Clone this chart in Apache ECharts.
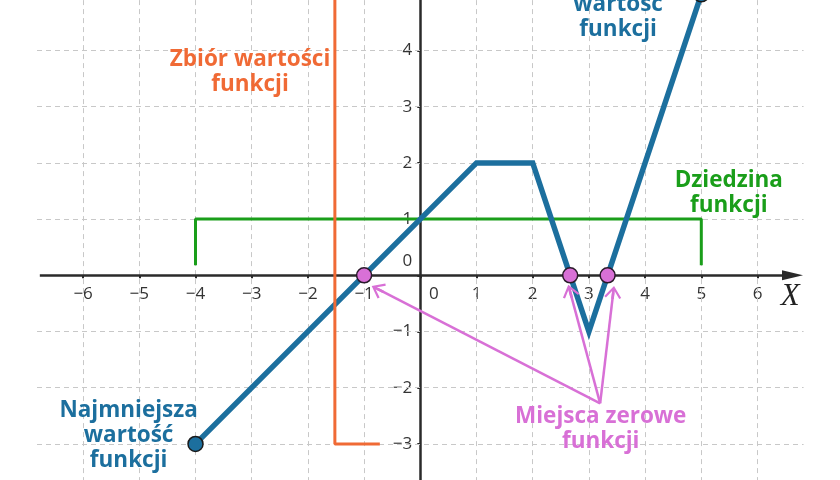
<!DOCTYPE html>
<html><head><meta charset="utf-8">
<script src="https://cdn.jsdelivr.net/npm/echarts@6/dist/echarts.min.js"></script>
<style>html,body{margin:0;padding:0;background:#fff}#c{width:840px;height:480px}</style>
</head><body><div id="c"></div>
<script>
// ---- data ----
const fnX = [-4, 1, 2, 3, 5];
const fnY = [-3, 2, 2, -1, 5];
const extremaX = [-4, 5];
const extremaY = [-3, 5];
const zeroX = [-1, 2.667, 3.333];
const rangeLineX = [-1.52, -1.52, -0.72];
const rangeLineY = [5.6, -3, -3];
const domainLineX = [-4, -4, 5, 5];
const domainLineY = [0.18, 1, 1, 0.18];
const xTicks = [-6, -5, -4, -3, -2, -1, 0, 1, 2, 3, 4, 5, 6];
const yTicks = [-3, -2, -1, 0, 1, 2, 3, 4, 5];
const arrowFrom = [3.2, -2.28];
const arrowTipX = [-0.865, 2.633, 3.447];
const arrowTipY = [-0.19, -0.17, -0.19];
const notes = ['Zbiór wartości\nfunkcji', 'Największa\nwartość\nfunkcji', 'Dziedzina\nfunkcji', 'Najmniejsza\nwartość\nfunkcji', 'Miejsca zerowe\nfunkcji', 'X'];

// ---- helpers ----
const U = 56.2; // px per unit in this layout (for arrow head offsets)
function pts(xs, ys) { return xs.map((x, i) => [x, ys[i]]); }
function shorten(from, to, px) {
  const dx = to[0] - from[0], dy = to[1] - from[1], L = Math.hypot(dx, dy), d = px / U;
  return [to[0] - dx / L * d, to[1] - dy / L * d];
}
const minus = v => v < 0 ? '\u2212' + (-v) : String(v);
const BLUE = '#1c6f9e', ORANGE = '#f06a35', GREEN = '#1a9e1a', PINK = '#d870d6', DARK = '#2a2a2a';
const chevron = 'path://M8,0 L16,11 L14.3,12.4 L9.25,5.2 L9.25,13 L6.75,13 L6.75,5.2 L1.7,12.4 L0,11 Z';

const gridLines = [];
xTicks.filter(v => v !== 0).forEach(v => gridLines.push([{coord: [v, -4]}, {coord: [v, 5]}]));
yTicks.filter(v => v !== 0 && v < 5).forEach(v => gridLines.push([{coord: [-6.82, v]}, {coord: [6.82, v]}]));

const arrows = arrowTipX.map((x, i) => [{coord: arrowFrom}, {coord: shorten(arrowFrom, [x, arrowTipY[i]], 6.5)}]);

const labelBase = {show: true, position: 'inside', fontFamily: 'Open Sans', fontWeight: 'bold', fontSize: 22.5, lineHeight: 25, align: 'center', verticalAlign: 'middle'};
const tickFont = {fontFamily: 'Open Sans', fontSize: 17, color: '#333'};

const chart = echarts.init(document.getElementById('c'));
chart.setOption({
  animation: false,
  backgroundColor: '#fff',
  grid: {left: 420.3 - 8 * U, top: 275.3 - 5 * U, width: 16 * U, height: 9 * U, containLabel: false, outerBoundsMode: 'none'},
  xAxis: {
    type: 'value', min: -8, max: 8, interval: 1, position: 'bottom', offset: -4 * U,
    axisLine: {show: false, onZero: false},
    splitLine: {show: false},
    axisTick: {show: true, length: 3, customValues: xTicks, lineStyle: {color: DARK, width: 2}},
    axisLabel: Object.assign({
      customValues: xTicks, margin: 10,
      formatter: v => xTicks.indexOf(v) < 0 ? '' : (v === 0 ? '{z|0}' : minus(v)),
      rich: {z: Object.assign({padding: [0, 0, 0, 27]}, tickFont)}
    }, tickFont)
  },
  yAxis: {
    type: 'value', min: -4, max: 5, interval: 1, position: 'left', offset: -8 * U,
    axisLine: {show: true, onZero: false, lineStyle: {color: DARK, width: 2.5}},
    splitLine: {show: false},
    axisTick: {show: true, length: 3, customValues: yTicks, lineStyle: {color: DARK, width: 2}},
    axisLabel: Object.assign({
      customValues: yTicks, margin: 8, showMaxLabel: true,
      formatter: v => yTicks.indexOf(v) < 0 ? '' : (v === 0 ? '{z|0}' : minus(v)),
      rich: {z: Object.assign({padding: [0, 0, 28, 0]}, tickFont)}
    }, tickFont)
  },
  series: [
    {type: 'line', data: [], silent: true, z: 1,
     markLine: {z: 1, silent: true, symbol: 'none', label: {show: false}, emphasis: {disabled: true},
       lineStyle: {color: '#c8c8c8', width: 1, type: [5, 4]}, data: gridLines}},
    {type: 'line', data: [], silent: true, z: 2,
     markLine: {z: 2, silent: true, symbol: ['none', 'triangle'], symbolSize: [10, 21], label: {show: false}, emphasis: {disabled: true},
       itemStyle: {color: DARK},
       lineStyle: {color: DARK, width: 2.5, type: 'solid'},
       data: [[{coord: [-6.77, 0]}, {coord: shorten([-6.77, 0], [6.81, 0], 10.5)}]]}},
    {type: 'line', data: pts(domainLineX, domainLineY), symbol: 'none', silent: true, z: 3,
     lineStyle: {color: GREEN, width: 3}},
    {type: 'line', data: pts(fnX, fnY), symbol: 'none', silent: true, z: 4,
     lineStyle: {color: BLUE, width: 5.5, join: 'miter'}},
    {type: 'line', data: pts(rangeLineX, rangeLineY), symbol: 'none', silent: true, z: 5,
     lineStyle: {color: ORANGE, width: 3}},
    {type: 'line', data: [], silent: true, z: 6,
     markLine: {z: 6, silent: true, symbol: ['none', chevron], symbolSize: [17, 13], label: {show: false}, emphasis: {disabled: true},
       itemStyle: {color: PINK},
       lineStyle: {color: PINK, width: 2.5, type: 'solid'}, data: arrows}},
    {type: 'scatter', data: pts(extremaX, extremaY), symbol: 'circle', symbolSize: 15, silent: true, z: 7,
     itemStyle: {color: BLUE, borderColor: '#1a1a1a', borderWidth: 1.5, opacity: 1}},
    {type: 'scatter', data: zeroX.map(x => [x, 0]), symbol: 'circle', symbolSize: 15, silent: true, z: 7,
     itemStyle: {color: PINK, borderColor: '#2a1a2a', borderWidth: 1.5, opacity: 1}},
    {type: 'scatter', symbolSize: 1, silent: true, z: 8, itemStyle: {color: 'rgba(0,0,0,0)', opacity: 1},
     label: labelBase,
     data: [
       {value: [-3.03, 3.62], label: {formatter: notes[0], color: ORANGE}},
       {value: [3.52, 4.81], label: {formatter: notes[1], color: BLUE}},
       {value: [5.49, 1.46], label: {formatter: notes[2], color: GREEN}},
       {value: [-5.19, -2.85], label: {formatter: notes[3], color: BLUE}},
       {value: [3.21, -2.73], label: {formatter: notes[4], color: PINK}},
       {value: [6.58, -0.39], label: {formatter: notes[5], color: '#222', fontFamily: 'Liberation Serif', fontStyle: 'italic', fontWeight: 'normal', fontSize: 31}}
     ]}
  ]
});
</script>
</body></html>
